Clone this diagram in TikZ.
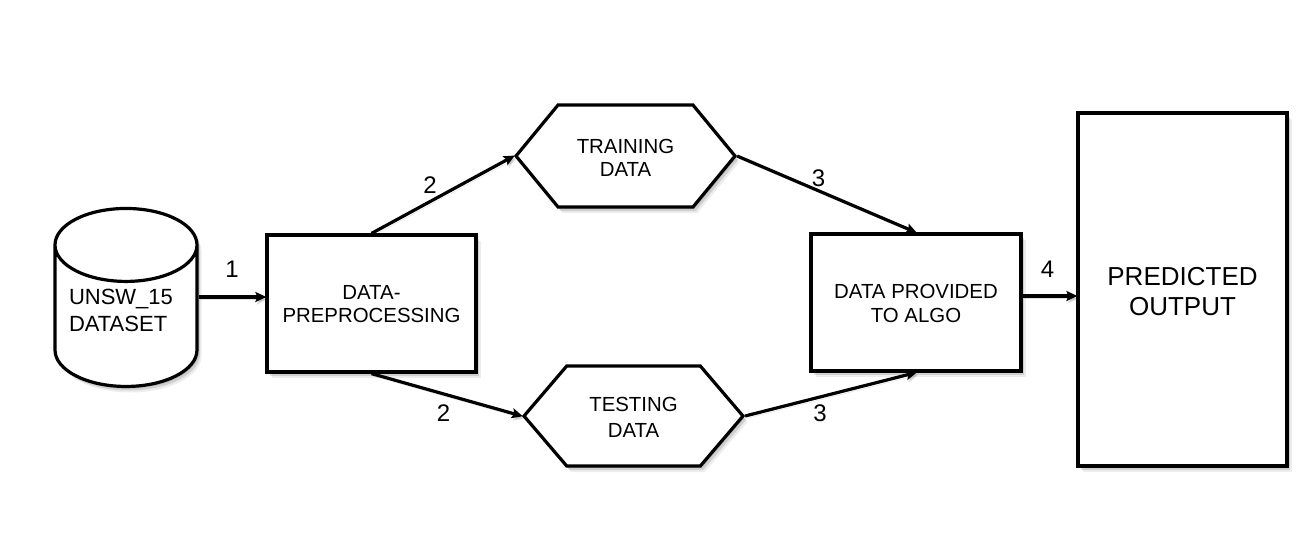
\documentclass[tikz,border=0pt]{standalone}
\usepackage{fontspec}
\setmainfont{Liberation Sans}
\usetikzlibrary{arrows.meta,shapes.geometric,shapes.symbols,shadows}
\newcommand{\dropby}[1]{\mbox{}\\[\dimexpr #1-\baselineskip\relax]}
\tikzset{
  softshadow/.style={
    drop shadow={shadow xshift=1.5pt,shadow yshift=-2pt,fill=black,opacity=0.12},
    drop shadow={shadow xshift=3pt,shadow yshift=-4pt,fill=black,opacity=0.12},
    drop shadow={shadow xshift=4.5pt,shadow yshift=-6pt,fill=black,opacity=0.07}},
  procbox/.style={draw=black,fill=white,line width=3.2pt,softshadow,align=center,inner sep=0pt,
    font=\fontsize{20.4}{24.5}\selectfont},
  hexbox/.style={signal,signal to=east and west,procbox},
  flow/.style={line width=3.2pt,-{Stealth[length=11pt,width=10pt,inset=2pt]},shorten >=-1pt,
    preaction={draw,opacity=0.12,transform canvas={xshift=1.5pt,yshift=-2.5pt}}},
  steplabel/.style={inner sep=0pt,font=\fontsize{24}{28}\selectfont}
}
\begin{document}
\begin{tikzpicture}[x=1pt,y=-1pt]
\useasboundingbox (0,0) rectangle (1313,536);

%source and first step
\node[procbox,cylinder,shape border rotate=90,shape aspect=0.64,minimum width=142pt,minimum height=178pt,
  align=left,font=\fontsize{22}{24.5}\selectfont]
  (dataset) at (126,316.5) {UNSW\_15\\[2.5pt]DATASET\\[-12.5pt]\hspace*{114pt}};
\node[procbox,minimum width=209pt,minimum height=137pt] (prep) at (371.5,303.5) {\dropby{15.6pt}DATA-\\[-1pt]PREPROCESSING};

%the two splits
\node[hexbox,signal pointer angle=101,minimum width=219pt,minimum height=102pt] (train) at (625.5,156) {\dropby{17.6pt}TRAINING\\[-1pt]DATA};
\node[hexbox,signal pointer angle=99,minimum width=219pt,minimum height=100pt] (test) at (633.5,416) {\dropby{16.6pt}TESTING\\[2pt]DATA};

%last steps
\node[procbox,minimum width=210pt,minimum height=137pt] (algo) at (916,302.5) {\dropby{16.6pt}DATA PROVIDED\\TO ALGO};
\node[procbox,minimum width=209pt,minimum height=353pt,font=\fontsize{26}{30}\selectfont] (output) at (1182.5,289.5) {\dropby{22.6pt}PREDICTED\\OUTPUT};

\draw[flow] (dataset.east |- 0,297) -- (prep.west |- 0,297);
\draw[flow] (prep.north) -- (train.west);
\draw[flow] (prep.south) -- (test.west);
\draw[flow] (train.east) -- (algo.north);
\draw[flow] (test.east) -- (algo.south);
\draw[flow] (algo.east |- 0,296) -- (output.west |- 0,296);

\node[steplabel] (lab1) at (232,269) {1};
\node[steplabel] (lab2a) at (430,185) {2};
\node[steplabel] (lab2b) at (443.5,413) {2};
\node[steplabel] (lab3a) at (818.5,178) {3};
\node[steplabel] (lab3b) at (820,413) {3};
\node[steplabel] (lab4) at (1047.5,269) {4};
\end{tikzpicture}
\end{document}
